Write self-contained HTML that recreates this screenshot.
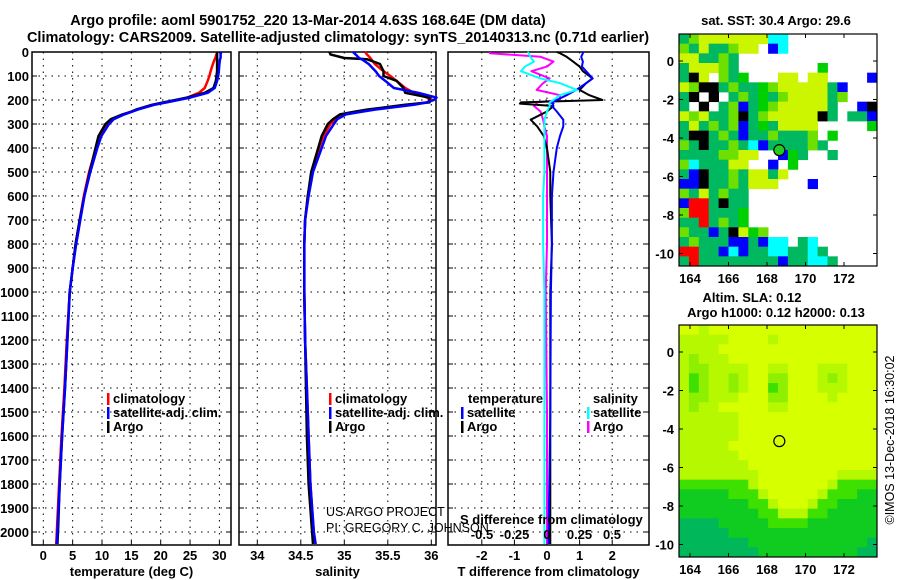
<!DOCTYPE html>
<html><head><meta charset="utf-8"><style>
body{margin:0;background:#fff}
svg{display:block;font-family:"Liberation Sans",sans-serif}
.b{font-weight:bold}
</style></head><body>
<svg id="fig" width="900" height="580" viewBox="0 0 900 580" xmlns="http://www.w3.org/2000/svg">
<text class="b" x="308" y="25" font-size="14.5" text-anchor="middle">Argo profile: aoml 5901752_220 13-Mar-2014 4.63S 168.64E (DM data)</text>
<text class="b" x="338" y="42" font-size="14.5" text-anchor="middle">Climatology: CARS2009. Satellite-adjusted climatology: synTS_20140313.nc (0.71d earlier)</text>
<text class="b" x="776" y="25" font-size="13" text-anchor="middle">sat. SST: 30.4 Argo: 29.6</text>
<text class="b" x="752" y="302" font-size="13" text-anchor="middle">Altim. SLA: 0.12</text>
<text class="b" x="776" y="317" font-size="13" text-anchor="middle">Argo h1000: 0.12 h2000: 0.13</text>
<text x="0" y="0" font-size="12.5" text-anchor="middle" transform="translate(894,440) rotate(-90)">©IMOS 13-Dec-2018 16:30:02</text>
<g id="p1"></g><g id="p2"></g><g id="p3"></g><g id="m1"></g><g id="m2"></g>
</svg>
<script>
const depths=[0,10,25,30,50,80,100,120,150,170,190,200,210,220,240,250,260,280,300,350,400,500,600,700,800,900,1000,1200,1400,1600,1800,2000,2050];
const argoT=[29.6,29.6,29.6,29.6,29.6,29.6,29.5,29.4,29.0,27.5,24.5,22.5,20.5,18.5,15.8,14.8,13.5,11.5,10.6,9.4,8.9,7.9,7.0,6.2,5.5,5.0,4.5,4.1,3.7,3.2,2.8,2.5,2.4];
const climT=[29.6,29.5,29.3,29.2,28.9,28.5,28.3,28.0,27.5,26.5,24.5,22.8,20.8,18.8,16.0,14.9,13.7,11.8,10.9,9.6,9.0,7.8,6.9,6.2,5.5,5.0,4.5,4.0,3.6,3.1,2.7,2.3,2.2];
const satT=[30.3,30.2,30.2,30.1,30.0,29.9,29.8,29.6,29.2,28.0,25.0,23.0,21.0,18.9,16.1,15.0,13.8,12.0,11.2,9.9,9.2,8.0,7.0,6.3,5.6,5.0,4.5,4.1,3.7,3.2,2.8,2.4,2.3];
const argoS=[34.83,34.84,35.0,35.26,35.41,35.45,35.45,35.6,35.68,35.7,35.98,35.98,35.98,35.7,35.26,35.1,34.95,34.87,34.81,34.74,34.7,34.62,34.58,34.55,34.54,34.54,34.54,34.55,34.56,34.57,34.59,34.63,34.64];
const climS=[35.24,35.26,35.3,35.31,35.35,35.45,35.53,35.6,35.7,35.8,35.95,36.02,35.95,35.75,35.3,35.12,34.98,34.9,34.84,34.76,34.71,34.63,34.58,34.55,34.54,34.54,34.54,34.55,34.57,34.59,34.61,34.65,34.67];
const satS=[35.1,35.13,35.17,35.2,35.28,35.36,35.4,35.47,35.57,35.85,36.06,36.03,35.95,35.8,35.35,35.18,35.02,34.92,34.88,34.79,34.74,34.64,34.59,34.55,34.54,34.54,34.54,34.55,34.57,34.59,34.61,34.65,34.67];
const diffDepths=[0,5,20,40,61,80,110,130,158,180,200,210,215,225,248,282,310,350,400,500,600,800,1000,1500,2000,2050];
const dTargo=[0.3,0.4,0.6,0.8,1.0,1.1,1.4,1.2,1.0,1.3,1.7,-0.8,-0.83,0.2,0,-0.5,-0.3,-0.1,0,0.1,0.1,0.15,0.1,0.1,0.1,0.1];
const dTsat=[1.1,1.1,1.05,1.1,1.07,1.2,1.4,1.2,0.9,0.6,0.3,0.1,0.2,0.15,0.3,0.5,0.5,0.4,0.3,0.2,0.15,0.15,0.12,0.1,0.05,0.05];
const dSargo=[-0.44,-0.44,-0.05,0.05,0,-0.12,0.02,-0.03,-0.08,0.1,0.1,-0.08,-0.08,-0.1,-0.05,-0.03,-0.02,0,0,0,0,0,-0.01,0,0,0];
const dSsat=[-0.15,-0.14,-0.13,-0.1,-0.17,-0.2,-0.05,0.1,0.23,0.1,0.05,0.02,0.02,0.02,0,-0.02,-0.02,-0.02,-0.02,-0.02,-0.03,-0.03,-0.02,-0.02,-0.02,-0.02];
const depthTicks=[0,100,200,300,400,500,600,700,800,900,1000,1100,1200,1300,1400,1500,1600,1700,1800,1900,2000];
const tempTicks=[0,5,10,15,20,25,30];
const salTicks=[34,34.5,35,35.5,36];
const tdTicks=[-2,-1,0,1,2];
const sdTicks=[-0.5,-0.25,0,0.25,0.5];
const lonTicks=[164,166,168,170,172];
const latTicks=[0,-2,-4,-6,-8,-10];
const sstRows=["GlyyyyyyyccWWWWWWWWW","lGyGGlyyWbcWWWWWWWWW","yyGGlGWWWWWWWWWWWWWW","GyyylGWWWWWWWWgWWWWW","GkyWlGgWWWyyWyyWWWWb","ylkkGlGGglyyyyyGbWWW","GkWkWGlGgGlyyyyGlWWW","GWkWGlbGglyyyyyGWWbk","ylyGGlkGlyyyyykGWGGb","GyGlGlbGgGyyyyWWWWWg","GkkGlGbGGlGGGlWgWWWW","lGkGGlGcbGGGGlGWWWWW","GGGGllyyWWbgGWWGWWWW","lcGGGyyWWbWgWWWWWWWW","GbkGGlGyyGyWWWWWWWWW","bbkGGlGyyyWWWbWWWWWW","lGyGlGGWWWWWWWWWWWWW","brrGkGGWWWWWWWWWWWWW","lrrGGGgWWWWWWWWWWWWW","GGrGlGgWWWWWWWWWWWWW","lGGbGkyglWWWWWWWWWWW","GlGGGbbGbccWGcWWWWWW","rrGGbcbGGccGGcGWWWWW","GrGGGGGGGGbGGccGWWWW"];
const slaRows=["YYLYYYYYYYYYYYYYYYYY","LLLLLYYYYLYYYYYYYYYY","LLLLYYYYYYYYYYYYYYYY","LMLLLYYYYYYYYYYYYYYY","LMMLLLLYYLLYYYLLLYYY","LNMLLMLYYMMYYYLMLYYY","LNMLLMLYYNMYYYLLLYYY","LMMLLLYYYMMYYYYLYYYY","LMLLYYYYYLLYYYYYYYYY","LLLLLLYYYYYYYYYYYYYY","LLLLLLYYYYYYYYYYYYYY","LLLLLLYYYYYYYYYYYYYY","LLLLLYYYYYYYYYYYYYYY","LLLLLLYYYYYYYYYYYYYY","LLLLLLLYYYYYYYYYYYYY","LLLLLLLLYYYYYYYYLLLL","NNNNNNNLYYYYYYYLNNNN","DDDDDNNNLYYYYYLNNNDD","DDDDDDDNNLYYYLNNDDDD","DDDDDDDDNNLLLNNDDDDD","TTTTDDDDDNNNNDDDDDDD","TTTTTDDDDDDDDDDDDDDD","TTTTTTTDDDDDDDDDDDDT","TTTTTTTTDDDDDDDDDDTT"];
const argoLon=168.64, argoLat=-4.63;

const NS="http://www.w3.org/2000/svg";
function mk(tag,attrs,parent,txt){const e=document.createElementNS(NS,tag);for(const k in attrs)e.setAttribute(k,attrs[k]);if(txt!==undefined)e.textContent=txt;parent.appendChild(e);return e;}
const yD=d=>52+d*0.24;
const PT=0.5; // panel top
function panel(g,x0,x1,xs,ticks,fmt,title,name){
  for(const t of ticks){const x=xs(t);
    const l=mk('line',{x1:x,x2:x,y1:52,y2:545,stroke:'#000','stroke-dasharray':'1.5,5','stroke-width':1},g);
    
    const tx=mk('text',{x:x,y:560,'font-size':13,'text-anchor':'middle',class:'b'},g,fmt(t));
    
    mk('line',{x1:x,x2:x,y1:545,y2:541,stroke:'#000'},g);}
  for(const d of depthTicks){const y=yD(d);
    const l=mk('line',{x1:x0,x2:x1,y1:y,y2:y,stroke:'#000','stroke-dasharray':'1.5,5','stroke-width':1},g);
    
    mk('line',{x1:x0,x2:x0+5,y1:y,y2:y,stroke:'#000'},g);mk('line',{x1:x1,x2:x1-5,y1:y,y2:y,stroke:'#000'},g);}
  const fr=mk('rect',{x:x0,y:52,width:x1-x0,height:493,fill:'none',stroke:'#000','stroke-width':1.5},g);
  
  const at=mk('text',{x:(x0+x1)/2,y:576,'font-size':13,'text-anchor':'middle',class:'b'},g,title);
  
}
function line(g,ds,vs,xs,color,name,w){
  const pts=ds.map((d,i)=>xs(vs[i]).toFixed(1)+','+yD(d).toFixed(1)).join(' ');
  const p=mk('polyline',{points:pts,fill:'none',stroke:color,'stroke-width':w||2.5,'stroke-linejoin':'round'},g);
  
}
function legend(g,x,y,color,label,name){
  mk('rect',{x:x,y:y-10,width:2.5,height:12,fill:color},g);
  const t=mk('text',{x:x+6,y:y,'font-size':13,class:'b'},g,label);
  
}
// depth labels
const p1=document.getElementById('p1');
for(const d of depthTicks){const t=mk('text',{x:29,y:yD(d)+5,'font-size':13,'text-anchor':'end',class:'b'},p1,String(d));
  }
// panel 1
const xT=v=>43.3+v*5.87;
panel(p1,32,231,xT,tempTicks,String,'temperature (deg C)','temperature');
line(p1,depths,climT,xT,'#f00','temperature-climatology-line');
line(p1,depths,argoT,xT,'#000','temperature-argo-line');
line(p1,depths,satT,xT,'#00f','temperature-satellite-line');
legend(p1,107,403,'#f00','climatology','legend-climatology');
legend(p1,107,417,'#00f','satellite-adj. clim.','legend-satellite');
legend(p1,107,431,'#000','Argo','legend-argo');
// panel 2
const p2=document.getElementById('p2');
const xS=v=>257.3+(v-34)*87;
panel(p2,239,436,xS,salTicks,String,'salinity','salinity');
line(p2,depths,climS,xS,'#f00','salinity-climatology-line');
line(p2,depths,argoS,xS,'#000','salinity-argo-line');
line(p2,depths,satS,xS,'#00f','salinity-satellite-line');
legend(p2,329,403,'#f00','climatology','legend-climatology');
legend(p2,329,417,'#00f','satellite-adj. clim.','legend-satellite');
legend(p2,329,431,'#000','Argo','legend-argo');
let t=mk('text',{x:326,y:516,'font-size':12.5},p2,'US ARGO PROJECT');
t=mk('text',{x:326,y:532,'font-size':12.5},p2,'PI: GREGORY C. JOHNSON');
// panel 3
const p3=document.getElementById('p3');
const xTD=v=>547+v*32.6;
const xSD=v=>547+v*130;
panel(p3,448,649,xTD,tdTicks,String,'T difference from climatology','t-difference');
line(p3,diffDepths,dSargo,xSD,'#f0f','s-diff-argo-line',2);
line(p3,diffDepths,dTargo,xTD,'#000','t-diff-argo-line',2);
line(p3,diffDepths,dTsat,xTD,'#00f','t-diff-satellite-line',2);
line(p3,diffDepths,dSsat,xSD,'#0ff','s-diff-satellite-line',2);
t=mk('text',{x:468,y:403,'font-size':13,class:'b'},p3,'temperature');
t=mk('text',{x:593,y:403,'font-size':13,class:'b'},p3,'salinity');
legend(p3,461,417,'#00f','satellite','legend-t-satellite');
legend(p3,461,431,'#000','Argo','legend-t-argo');
legend(p3,587,417,'#0ff','satellite','legend-s-satellite');
legend(p3,587,431,'#f0f','Argo','legend-s-argo');
t=mk('text',{x:460,y:524,'font-size':13,class:'b'},p3,'S difference from climatology');
for(const s of sdTicks){const tt=mk('text',{x:xSD(s),y:539,'font-size':13,'text-anchor':'middle',class:'b'},p3,String(s));
  }
// maps
function map(gid,top,rows,pal,name,fillMarker){
  const g=document.getElementById(gid);
  const x0=679,x1=877,y1=top+232;
  const lonX=v=>690+(v-164)*19.25;
  const latY=v=>top+27+(-v)*19.25;
  const cw=(x1-x0)/rows[0].length, ch=(y1-top)/rows.length;
  rows.forEach((r,i)=>{for(let j=0;j<r.length;j++){const c=pal[r[j]];if(!c)continue;
    const cell=mk('rect',{x:(x0+j*cw).toFixed(2),y:(top+i*ch).toFixed(2),width:(cw+0.4).toFixed(2),height:(ch+0.4).toFixed(2),fill:c},g);
    }});
  const fr=mk('rect',{x:x0,y:top,width:x1-x0,height:232,fill:'none',stroke:'#000','stroke-width':1.2},g);
  
  for(const lo of lonTicks){const x=lonX(lo);
    mk('line',{x1:x,x2:x,y1:top,y2:top+4,stroke:'#000'},g);mk('line',{x1:x,x2:x,y1:y1,y2:y1-4,stroke:'#000'},g);
    const tt=mk('text',{x:x,y:y1+17,'font-size':13,'text-anchor':'middle',class:'b'},g,String(lo));
    }
  for(const la of latTicks){const y=latY(la);
    mk('line',{x1:x0,x2:x0+4,y1:y,y2:y,stroke:'#000'},g);mk('line',{x1:x1,x2:x1-4,y1:y,y2:y,stroke:'#000'},g);
    const tt=mk('text',{x:674,y:y+5,'font-size':13,'text-anchor':'end',class:'b'},g,String(la));
    }
  const m=mk('circle',{cx:lonX(argoLon),cy:latY(argoLat),r:5.5,fill:fillMarker,stroke:'#000','stroke-width':1.2},g);
  
}
map('m1',34,sstRows,{G:'#00b860',g:'#00d000',l:'#6ee000',y:'#ccf500',b:'#0000ff',c:'#00ffff',r:'#ff0000',k:'#000000'},'sst-map','#22cc22');
map('m2',325,slaRows,{Y:'#d6ff00',L:'#b6f800',M:'#8ef000',N:'#3ee000',D:'#10cc20',T:'#00b85a'},'sla-map','none');
</script>
</body></html>
